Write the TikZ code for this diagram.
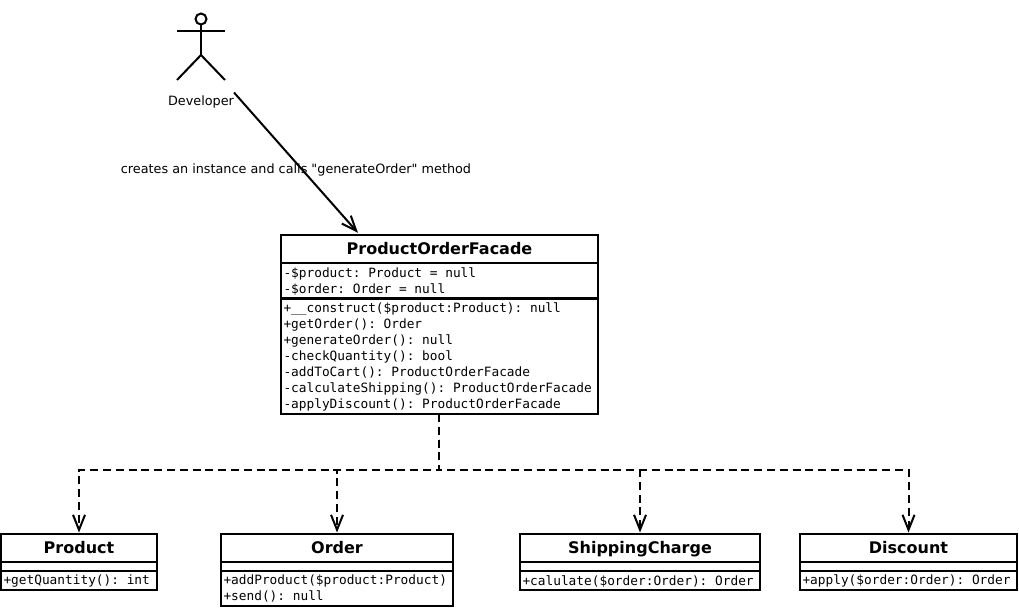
\documentclass[tikz,border=0pt]{standalone}
\usepackage{fontspec}
\setmainfont[Ligatures=TeXOff]{DejaVu Sans}
\setmonofont[Ligatures=TeXOff]{DejaVu Sans Mono}
\usetikzlibrary{arrows.meta}
\newcommand{\topfix}{\leavevmode\vrule width 0pt height 10.9pt\relax}
\newcommand{\topfixm}{\leavevmode\vrule width 0pt height 12.3pt\relax}
\newcommand{\monotext}{\fontsize{12.8}{16}\selectfont\ttfamily\frenchspacing}
\tikzset{
  lbl/.style={font=\fontsize{12.8}{16}\selectfont, inner sep=0pt, outer sep=0pt, text=black},
  comp/.style={draw=black, line width=2pt, anchor=north west, inner sep=0pt, outer sep=0pt},
  ctitle/.style={comp, font=\fontsize{16}{19}\selectfont\bfseries, align=center, text height=13pt, text depth=2.5pt},
  cbody/.style={comp, font=\monotext, align=flush left, inner xsep=2.5pt},
  actorline/.style={draw=black, line width=2pt},
  assoc/.style={draw=black, line width=2pt, shorten >=1.5pt, -{Straight Barb[length=15pt,width=12pt,line width=2pt]}},
  dep/.style={assoc, dash pattern=on 8pt off 4.8pt},
}
\begin{document}
\begin{tikzpicture}[x=1pt,y=-1pt]
\useasboundingbox[fill=white] (0,0) rectangle (1019,608);
% actor
\draw[actorline] (201,19) circle (5.5);
\draw[actorline] (177,31) -- (225,31);
\draw[actorline] (201,24.5) -- (201,55);
\draw[actorline] (177,80) -- (201,55) -- (225,80);
\node[lbl, anchor=center] (dev) at (201,101.5) {Developer};
\coordinate (devport) at (234,92.5);
\node[lbl, anchor=center] (msg) at (296,170) {creates an instance and calls "generateOrder" method};
% facade
\node[ctitle, minimum width=317pt, minimum height=28pt] (ft) at (281,235) {ProductOrderFacade};
\node[cbody, minimum width=317pt, text width=312pt, minimum height=36pt] (fa) at (281,263) {\topfix -\$product: Product = null\\-\$order: Order = null};
\node[cbody, minimum width=317pt, text width=312pt, minimum height=116pt] (fm) at (281,298) {\topfixm +\_\_construct(\$product:Product): null\\+getOrder(): Order\\+generateOrder(): null\\-checkQuantity(): bool\\-addToCart(): ProductOrderFacade\\-calculateShipping(): ProductOrderFacade\\-applyDiscount(): ProductOrderFacade};
\coordinate (enter) at (359,234);
\coordinate (hub) at (439,470);
% product
\node[ctitle, minimum width=156pt, minimum height=28pt] (pt) at (1,534) {Product};
\node[comp, minimum width=156pt, minimum height=9pt] (pa) at (1,562) {};
\node[cbody, minimum width=156pt, text width=151pt, minimum height=19pt] (pm) at (1,571) {\topfix +getQuantity(): int};
% order
\node[ctitle, minimum width=232pt, minimum height=28pt] (ot) at (221,534) {Order};
\node[comp, minimum width=232pt, minimum height=9pt] (oa) at (221,562) {};
\node[cbody, minimum width=232pt, text width=227pt, minimum height=35pt] (om) at (221,571) {+addProduct(\$product:Product)\\+send(): null};
% shipping
\node[ctitle, minimum width=240pt, minimum height=28pt] (st) at (520,534) {ShippingCharge};
\node[comp, minimum width=240pt, minimum height=9pt] (sa) at (520,562) {};
\node[cbody, minimum width=240pt, text width=235pt, minimum height=19pt] (sm) at (520,571) {\topfix +calulate(\$order:Order): Order};
% discount
\node[ctitle, minimum width=217pt, minimum height=28pt] (dt) at (800,534) {Discount};
\node[comp, minimum width=217pt, minimum height=9pt] (da) at (800,562) {};
\node[cbody, minimum width=217pt, text width=212pt, minimum height=19pt] (dm) at (800,571) {\topfix +apply(\$order:Order): Order};
% connectors
\draw[assoc] (devport) -- (enter);
\draw[dep] (hub |- fm.south) -- (hub) -| (pt.north);
\draw[dep] (hub |- fm.south) -- (hub) -| (ot.north);
\draw[dep] (hub |- fm.south) -- (hub) -| (st.north);
\draw[dep] (hub |- fm.south) -- (hub) -| (dt.north);
\end{tikzpicture}
\end{document}
